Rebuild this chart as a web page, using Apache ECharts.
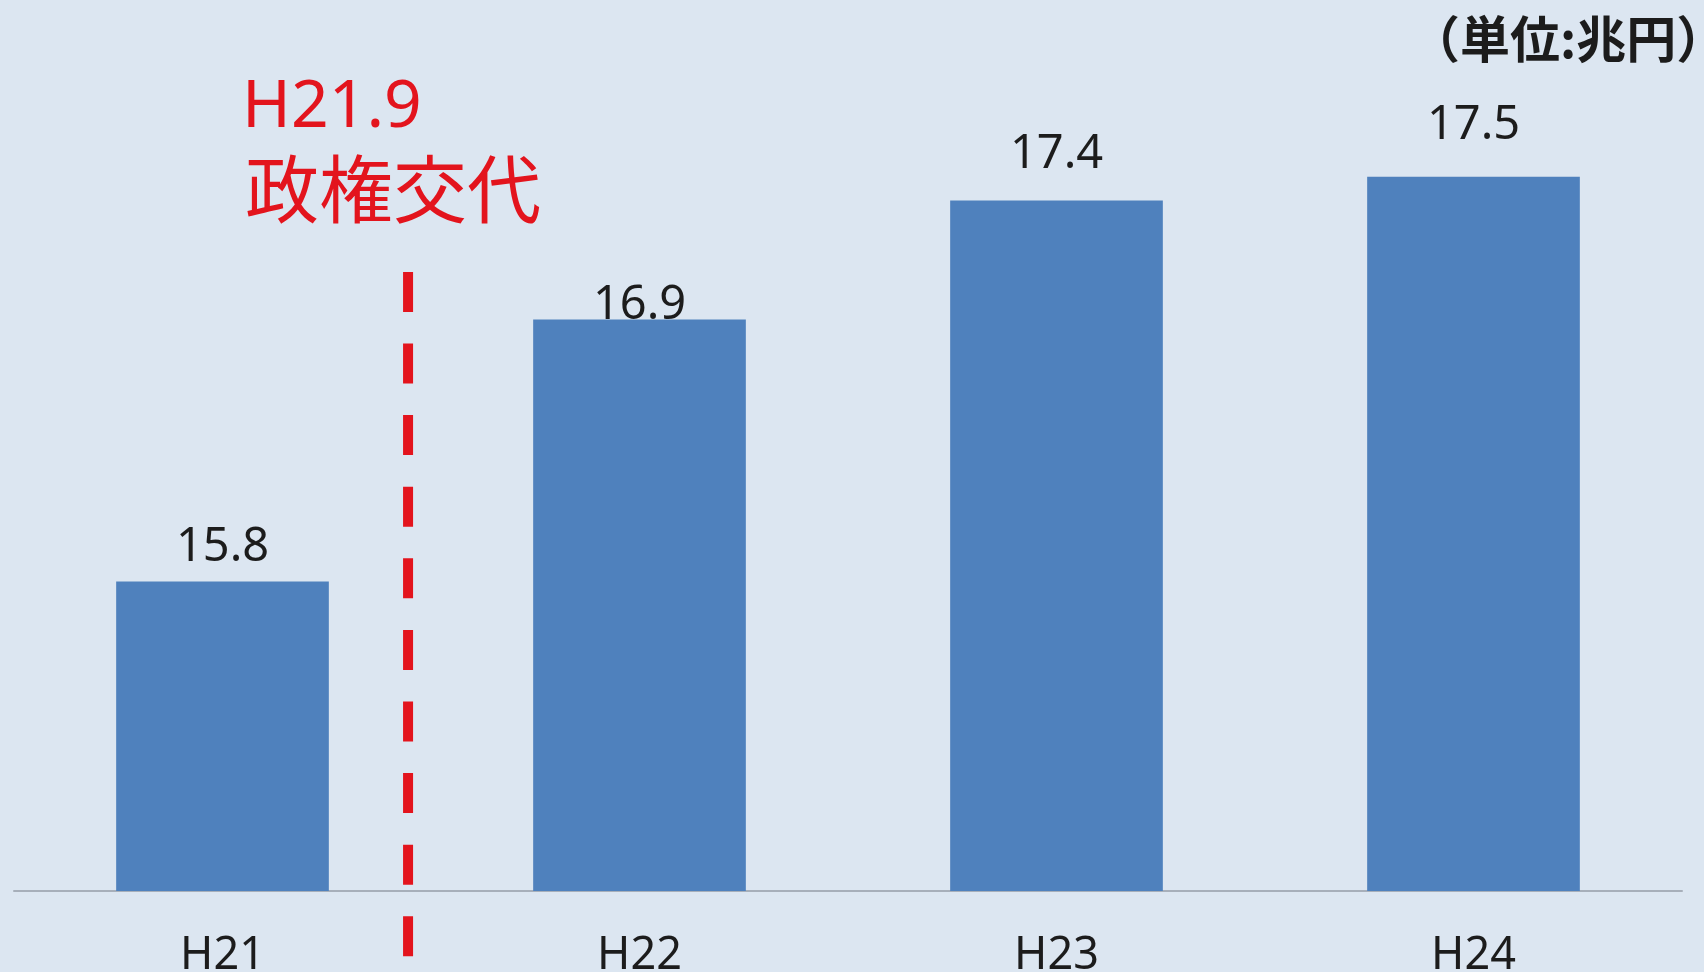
<!DOCTYPE html>
<html>
<head>
<meta charset="utf-8">
<style>
  html, body { margin: 0; padding: 0; background: #dce6f1; }
  #chart { width: 1704px; height: 972px; }
</style>
<script src="https://cdn.jsdelivr.net/npm/echarts@6/dist/echarts.min.js"></script>
</head>
<body>
<div id="chart"></div>
<script>
// Fiscal years and totals (trillion yen)
const years = ['H21', 'H22', 'H23', 'H24'];
const totals = [15.8, 16.9, 17.4, 17.5];

// Gap between each bar top and its value label
const labelGaps = [10, -10, 22, 28];

// Change of government (H21.9), placed between H21 and H22 on the category scale
const changeAt = 0.445;
const changeSpan = [17.1, 14.1];

const LATIN = '"Noto Sans", "Noto Sans CJK JP", sans-serif';
const CJK = '"Noto Sans CJK JP", "Noto Sans", sans-serif';
const RED = '#e3141d';

const chart = echarts.init(document.getElementById('chart'), null, { renderer: 'canvas' });

chart.setOption({
  backgroundColor: '#dce6f1',
  animation: false,
  grid: { left: 14, right: 22, top: 10, bottom: 81, containLabel: false, outerBoundsMode: 'none' },
  xAxis: [
    {
      type: 'category',
      data: years,
      axisTick: { show: false },
      axisLine: { show: true, lineStyle: { color: '#a7afba', width: 2 } },
      axisLabel: {
        margin: 43,
        fontSize: 45,
        fontFamily: LATIN,
        color: '#1c1c1c'
      }
    },
    {
      type: 'value',
      min: -0.5,
      max: 3.5,
      show: false
    }
  ],
  yAxis: {
    type: 'value',
    min: 14.5,
    max: 18.2,
    show: false,
    splitLine: { show: false }
  },
  series: [
    {
      type: 'bar',
      xAxisIndex: 0,
      barWidth: '51%',
      itemStyle: { color: '#4f81bd' },
      data: totals.map((v, i) => ({
        value: v,
        label: { distance: labelGaps[i] }
      })),
      label: {
        show: true,
        position: 'top',
        fontSize: 47,
        fontFamily: LATIN,
        color: '#1c1c1c',
        formatter: p => p.value.toFixed(1)
      },
      silent: true,
      z: 2
    },
    {
      // dashed divider marking the change of government
      type: 'line',
      xAxisIndex: 1,
      data: [[changeAt, changeSpan[0]], [changeAt, changeSpan[1]]],
      clip: false,
      silent: true,
      symbol: 'none',
      lineStyle: { color: RED, width: 10, type: [40, 31.6], cap: 'butt' },
      z: 3
    }
  ],
  graphic: [
    {
      type: 'text',
      left: 242,
      top: 75,
      style: {
        text: 'H21.9',
        font: '66px ' + LATIN,
        fill: RED
      }
    },
    {
      type: 'text',
      left: 245,
      top: 152,
      style: {
        text: '政権交代',
        font: '74px ' + CJK,
        fill: RED
      }
    },
    {
      type: 'text',
      left: 1410,
      top: 14,
      style: {
        text: '（単位:兆円）',
        font: 'bold 50px ' + CJK,
        fill: '#1c1c1c'
      }
    }
  ]
});
</script>
</body>
</html>
